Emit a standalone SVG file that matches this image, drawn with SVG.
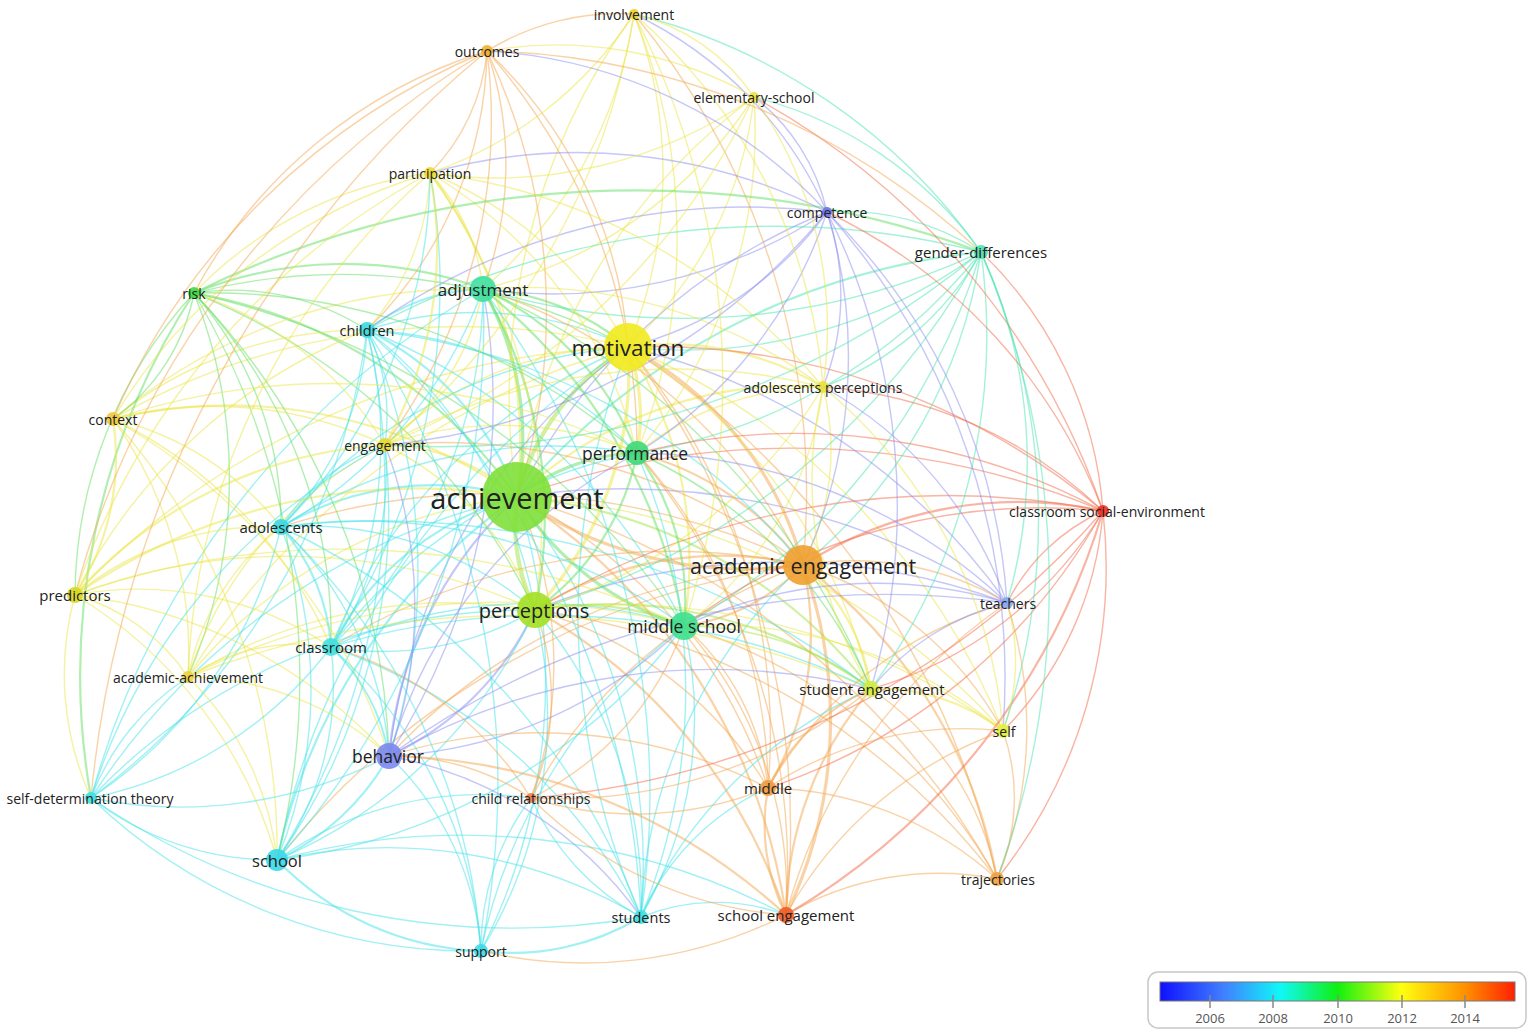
<svg xmlns="http://www.w3.org/2000/svg" width="1535" height="1035" viewBox="0 0 1535 1035">
<defs>
<style>
.c{stroke:#44e4ea}.t{stroke:#4ce6b2}.g{stroke:#62e062}.l{stroke:#a2e443}.y{stroke:#ece544}.o{stroke:#f4a850}.r{stroke:#f36a48}.b{stroke:#8c90f0}
.w2{stroke-width:2.2}.w3{stroke-width:3.2}.w4{stroke-width:4.2}
.lb{font-family:"Open Sans","DejaVu Sans",sans-serif;fill:#222;text-anchor:middle;dominant-baseline:central;font-size:14px}
.m{font-size:15px}
.nd{fill-opacity:0.9}
.lg{font-family:"Open Sans","DejaVu Sans",sans-serif;fill:#555;font-size:13px;text-anchor:middle}
</style>
<linearGradient id="scale" x1="0" y1="0" x2="1" y2="0">
<stop offset="0" stop-color="#1010ff"/>
<stop offset="0.18" stop-color="#4080ff"/>
<stop offset="0.34" stop-color="#10f8f8"/>
<stop offset="0.5" stop-color="#10f010"/>
<stop offset="0.68" stop-color="#ffff10"/>
<stop offset="0.86" stop-color="#ff9000"/>
<stop offset="1" stop-color="#ff2000"/>
</linearGradient>
</defs>
<rect width="1535" height="1035" fill="#fff"/>
<g id="connectors" fill="none" stroke-opacity="0.5" stroke-width="1.4" stroke-linecap="round">
<path class="l w4" d="M517 497A250 250 0 0 1 628 347"/>
<path class="g w3" d="M517 497A200 200 0 0 1 637 453"/>
<path class="l w4" d="M535 610A200 200 0 0 1 517 497"/>
<path class="o w3" d="M803 565A400 400 0 0 1 517 497"/>
<path class="g w3" d="M684 626A300 300 0 0 1 517 497"/>
<path class="g w3" d="M483 289A300 300 0 0 1 517 497"/>
<path class="c w2" d="M367 330A300 300 0 0 1 517 497"/>
<path class="y w2" d="M385 445A200 200 0 0 1 517 497"/>
<path class="c w2" d="M281 527A300 300 0 0 1 517 497"/>
<path class="c w2" d="M331 647A300 300 0 0 1 517 497"/>
<path class="b w2" d="M389 756A400 400 0 0 1 517 497"/>
<path class="g w2" d="M194 293A500 500 0 0 1 517 497"/>
<path class="y w2" d="M113 419A500 500 0 0 1 517 497"/>
<path class="y w2" d="M75 595A600 600 0 0 1 517 497"/>
<path class="y" d="M188 677A500 500 0 0 1 517 497"/>
<path class="c" d="M91 798A700 700 0 0 1 517 497"/>
<path class="c w2" d="M277 860A600 600 0 0 1 517 497"/>
<path class="c" d="M517 497A600 600 0 0 1 481 951"/>
<path class="c" d="M517 497A600 600 0 0 1 641 917"/>
<path class="o" d="M517 497A400 400 0 0 1 531 798"/>
<path class="o" d="M517 497A500 500 0 0 1 768 788"/>
<path class="o w2" d="M517 497A600 600 0 0 1 786 915"/>
<path class="l w2" d="M517 497A500 500 0 0 1 871 689"/>
<path class="y" d="M517 497A700 700 0 0 1 1003 731"/>
<path class="o" d="M517 497A800 800 0 0 1 997 879"/>
<path class="b" d="M517 497A700 700 0 0 1 1007 603"/>
<path class="r" d="M517 497A800 800 0 0 1 1103 511"/>
<path class="y w2" d="M517 497A400 400 0 0 1 823 387"/>
<path class="t w2" d="M517 497A700 700 0 0 1 981 252"/>
<path class="b" d="M517 497A600 600 0 0 1 827 212"/>
<path class="y" d="M517 497A600 600 0 0 1 754 97"/>
<path class="y" d="M517 497A650 650 0 0 1 634 14"/>
<path class="o" d="M487 51A600 600 0 0 1 517 497"/>
<path class="y w2" d="M430 173A450 450 0 0 1 517 497"/>
<path class="y w3" d="M628 347A200 200 0 0 1 637 453"/>
<path class="y w3" d="M628 347A350 350 0 0 1 535 610"/>
<path class="o w3" d="M628 347A350 350 0 0 1 803 565"/>
<path class="y w2" d="M628 347A400 400 0 0 1 684 626"/>
<path class="g w2" d="M483 289A250 250 0 0 1 628 347"/>
<path class="c" d="M367 330A350 350 0 0 1 628 347"/>
<path class="y" d="M634 14A450 450 0 0 1 628 347"/>
<path class="y" d="M754 97A400 400 0 0 1 628 347"/>
<path class="o" d="M487 51A450 450 0 0 1 628 347"/>
<path class="y" d="M430 173A400 400 0 0 1 628 347"/>
<path class="b" d="M827 212A350 350 0 0 1 628 347"/>
<path class="t" d="M981 252A500 500 0 0 1 628 347"/>
<path class="y w2" d="M628 347A300 300 0 0 1 823 387"/>
<path class="y" d="M385 445A350 350 0 0 1 628 347"/>
<path class="g" d="M194 293A600 600 0 0 1 628 347"/>
<path class="y" d="M113 419A700 700 0 0 1 628 347"/>
<path class="c" d="M281 527A500 500 0 0 1 628 347"/>
<path class="c" d="M331 647A550 550 0 0 1 628 347"/>
<path class="b" d="M389 756A600 600 0 0 1 628 347"/>
<path class="y" d="M628 347A550 550 0 0 1 871 689"/>
<path class="y" d="M628 347A700 700 0 0 1 1003 731"/>
<path class="o" d="M628 347A600 600 0 0 1 768 788"/>
<path class="o" d="M628 347A800 800 0 0 1 786 915"/>
<path class="o" d="M628 347A850 850 0 0 1 997 879"/>
<path class="r" d="M628 347A700 700 0 0 1 1103 511"/>
<path class="b" d="M628 347A650 650 0 0 1 1007 603"/>
<path class="y" d="M75 595A800 800 0 0 1 628 347"/>
<path class="c" d="M641 917A750 750 0 0 1 628 347"/>
<path class="c" d="M277 860A800 800 0 0 1 628 347"/>
<path class="y" d="M188 677A750 750 0 0 1 628 347"/>
<path class="o w2" d="M535 610A350 350 0 0 1 803 565"/>
<path class="o w2" d="M803 565A200 200 0 0 1 684 626"/>
<path class="o w2" d="M637 453A300 300 0 0 1 803 565"/>
<path class="y w2" d="M803 565A200 200 0 0 1 871 689"/>
<path class="o w2" d="M803 565A300 300 0 0 1 768 788"/>
<path class="o w3" d="M803 565A450 450 0 0 1 786 915"/>
<path class="o w2" d="M803 565A500 500 0 0 1 997 879"/>
<path class="o" d="M803 565A350 350 0 0 1 1003 731"/>
<path class="o" d="M803 565A300 300 0 0 1 1007 603"/>
<path class="r w2" d="M803 565A400 400 0 0 1 1103 511"/>
<path class="y" d="M823 387A250 250 0 0 1 803 565"/>
<path class="t" d="M981 252A500 500 0 0 1 803 565"/>
<path class="o" d="M389 756A600 600 0 0 1 803 565"/>
<path class="o" d="M531 798A500 500 0 0 1 803 565"/>
<path class="c" d="M641 917A500 500 0 0 1 803 565"/>
<path class="o" d="M483 289A550 550 0 0 1 803 565"/>
<path class="o" d="M385 445A600 600 0 0 1 803 565"/>
<path class="o" d="M331 647A650 650 0 0 1 803 565"/>
<path class="o" d="M281 527A700 700 0 0 1 803 565"/>
<path class="c" d="M367 330A650 650 0 0 1 803 565"/>
<path class="b" d="M827 212A500 500 0 0 1 803 565"/>
<path class="o" d="M277 860A800 800 0 0 1 803 565"/>
<path class="o" d="M634 14A750 750 0 0 1 803 565"/>
<path class="l w2" d="M535 610A250 250 0 0 1 684 626"/>
<path class="g w2" d="M637 453A250 250 0 0 1 535 610"/>
<path class="g w2" d="M483 289A450 450 0 0 1 535 610"/>
<path class="b w2" d="M535 610A300 300 0 0 1 389 756"/>
<path class="c" d="M535 610A300 300 0 0 1 331 647"/>
<path class="c" d="M281 527A350 350 0 0 1 535 610"/>
<path class="c" d="M367 330A450 450 0 0 1 535 610"/>
<path class="o" d="M535 610A250 250 0 0 1 531 798"/>
<path class="o" d="M535 610A400 400 0 0 1 768 788"/>
<path class="o w2" d="M535 610A550 550 0 0 1 786 915"/>
<path class="c" d="M535 610A450 450 0 0 1 641 917"/>
<path class="c" d="M535 610A450 450 0 0 1 481 951"/>
<path class="c" d="M535 610A500 500 0 0 1 277 860"/>
<path class="l w2" d="M535 610A450 450 0 0 1 871 689"/>
<path class="y" d="M535 610A650 650 0 0 1 1003 731"/>
<path class="o" d="M535 610A700 700 0 0 1 997 879"/>
<path class="r" d="M535 610A800 800 0 0 1 1103 511"/>
<path class="b" d="M535 610A650 650 0 0 1 1007 603"/>
<path class="y" d="M385 445A300 300 0 0 1 535 610"/>
<path class="g" d="M194 293A650 650 0 0 1 535 610"/>
<path class="y" d="M75 595A600 600 0 0 1 535 610"/>
<path class="y" d="M188 677A500 500 0 0 1 535 610"/>
<path class="c" d="M91 798A600 600 0 0 1 535 610"/>
<path class="y" d="M430 173A600 600 0 0 1 535 610"/>
<path class="t" d="M981 252A750 750 0 0 1 535 610"/>
<path class="y" d="M823 387A500 500 0 0 1 535 610"/>
<path class="g w2" d="M637 453A250 250 0 0 1 684 626"/>
<path class="g w2" d="M483 289A550 550 0 0 1 684 626"/>
<path class="l" d="M684 626A300 300 0 0 1 871 689"/>
<path class="o" d="M684 626A250 250 0 0 1 768 788"/>
<path class="o" d="M684 626A400 400 0 0 1 786 915"/>
<path class="c" d="M684 626A400 400 0 0 1 641 917"/>
<path class="b" d="M684 626A450 450 0 0 1 389 756"/>
<path class="c" d="M331 647A500 500 0 0 1 684 626"/>
<path class="b" d="M684 626A450 450 0 0 1 1007 603"/>
<path class="t" d="M981 252A650 650 0 0 1 684 626"/>
<path class="y" d="M684 626A450 450 0 0 1 1003 731"/>
<path class="o" d="M684 626A550 550 0 0 1 997 879"/>
<path class="r" d="M684 626A600 600 0 0 1 1103 511"/>
<path class="c" d="M367 330A600 600 0 0 1 684 626"/>
<path class="c" d="M281 527A550 550 0 0 1 684 626"/>
<path class="c" d="M684 626A600 600 0 0 1 277 860"/>
<path class="y" d="M823 387A350 350 0 0 1 684 626"/>
<path class="g" d="M194 293A800 800 0 0 1 684 626"/>
<path class="o" d="M684 626A300 300 0 0 1 531 798"/>
<path class="c w2" d="M367 330A200 200 0 0 1 483 289"/>
<path class="g w2" d="M483 289A300 300 0 0 1 637 453"/>
<path class="g w2" d="M194 293A400 400 0 0 1 483 289"/>
<path class="c" d="M483 289A450 450 0 0 1 281 527"/>
<path class="c" d="M483 289A500 500 0 0 1 331 647"/>
<path class="b" d="M483 289A650 650 0 0 1 389 756"/>
<path class="c" d="M483 289A800 800 0 0 1 277 860"/>
<path class="y" d="M483 289A250 250 0 0 1 385 445"/>
<path class="y" d="M430 173A200 200 0 0 1 483 289"/>
<path class="o" d="M487 51A350 350 0 0 1 483 289"/>
<path class="y" d="M634 14A450 450 0 0 1 483 289"/>
<path class="y" d="M754 97A450 450 0 0 1 483 289"/>
<path class="b" d="M827 212A500 500 0 0 1 483 289"/>
<path class="t" d="M981 252A700 700 0 0 1 483 289"/>
<path class="y" d="M483 289A500 500 0 0 1 823 387"/>
<path class="y" d="M113 419A550 550 0 0 1 483 289"/>
<path class="c" d="M91 798A850 850 0 0 1 483 289"/>
<path class="c" d="M483 289A850 850 0 0 1 641 917"/>
<path class="g" d="M483 289A750 750 0 0 1 871 689"/>
<path class="y" d="M637 453A300 300 0 0 1 823 387"/>
<path class="t" d="M981 252A550 550 0 0 1 637 453"/>
<path class="c" d="M367 330A400 400 0 0 1 637 453"/>
<path class="c" d="M281 527A500 500 0 0 1 637 453"/>
<path class="c" d="M331 647A500 500 0 0 1 637 453"/>
<path class="b" d="M389 756A500 500 0 0 1 637 453"/>
<path class="g" d="M637 453A450 450 0 0 1 871 689"/>
<path class="o" d="M637 453A500 500 0 0 1 768 788"/>
<path class="o" d="M637 453A650 650 0 0 1 786 915"/>
<path class="r" d="M637 453A650 650 0 0 1 1103 511"/>
<path class="b" d="M637 453A550 550 0 0 1 1007 603"/>
<path class="b" d="M827 212A450 450 0 0 1 637 453"/>
<path class="y" d="M754 97A500 500 0 0 1 637 453"/>
<path class="y" d="M634 14A600 600 0 0 1 637 453"/>
<path class="o" d="M487 51A600 600 0 0 1 637 453"/>
<path class="y" d="M430 173A450 450 0 0 1 637 453"/>
<path class="g" d="M194 293A650 650 0 0 1 637 453"/>
<path class="y" d="M385 445A350 350 0 0 1 637 453"/>
<path class="c" d="M637 453A600 600 0 0 1 641 917"/>
<path class="c" d="M367 330A300 300 0 0 1 281 527"/>
<path class="c" d="M367 330A450 450 0 0 1 331 647"/>
<path class="c" d="M367 330A600 600 0 0 1 389 756"/>
<path class="c" d="M367 330A700 700 0 0 1 277 860"/>
<path class="g" d="M194 293A250 250 0 0 1 367 330"/>
<path class="c" d="M367 330A200 200 0 0 1 385 445"/>
<path class="c" d="M367 330A700 700 0 0 1 91 798"/>
<path class="c" d="M367 330A850 850 0 0 1 481 951"/>
<path class="c" d="M367 330A850 850 0 0 1 641 917"/>
<path class="y" d="M430 173A250 250 0 0 1 367 330"/>
<path class="b" d="M367 330A650 650 0 0 1 827 212"/>
<path class="t" d="M367 330A850 850 0 0 1 981 252"/>
<path class="y" d="M113 419A400 400 0 0 1 367 330"/>
<path class="y" d="M75 595A550 550 0 0 1 367 330"/>
<path class="o" d="M487 51A400 400 0 0 1 367 330"/>
<path class="g" d="M194 293A350 350 0 0 1 281 527"/>
<path class="g" d="M194 293A500 500 0 0 1 331 647"/>
<path class="g" d="M194 293A700 700 0 0 1 389 756"/>
<path class="g" d="M194 293A750 750 0 0 1 277 860"/>
<path class="g w2" d="M91 798A700 700 0 0 1 194 293"/>
<path class="g" d="M194 293A200 200 0 0 1 113 419"/>
<path class="g" d="M75 595A450 450 0 0 1 194 293"/>
<path class="o" d="M194 293A500 500 0 0 1 487 51"/>
<path class="y" d="M194 293A400 400 0 0 1 430 173"/>
<path class="y" d="M194 293A350 350 0 0 1 385 445"/>
<path class="g" d="M194 293A500 500 0 0 1 188 677"/>
<path class="g w2" d="M194 293A1000 1000 0 0 1 981 252"/>
<path class="y" d="M113 419A300 300 0 0 1 281 527"/>
<path class="y" d="M113 419A450 450 0 0 1 331 647"/>
<path class="y" d="M113 419A600 600 0 0 1 389 756"/>
<path class="y" d="M113 419A650 650 0 0 1 277 860"/>
<path class="y w2" d="M113 419A250 250 0 0 1 75 595"/>
<path class="y" d="M113 419A400 400 0 0 1 188 677"/>
<path class="y" d="M113 419A400 400 0 0 1 385 445"/>
<path class="o" d="M113 419A700 700 0 0 1 487 51"/>
<path class="y" d="M113 419A550 550 0 0 1 430 173"/>
<path class="y" d="M113 419A700 700 0 0 1 637 453"/>
<path class="y" d="M75 595A300 300 0 0 1 281 527"/>
<path class="y" d="M75 595A350 350 0 0 1 331 647"/>
<path class="y" d="M75 595A500 500 0 0 1 389 756"/>
<path class="y" d="M75 595A450 450 0 0 1 277 860"/>
<path class="y" d="M75 595A200 200 0 0 1 188 677"/>
<path class="y w2" d="M75 595A450 450 0 0 1 385 445"/>
<path class="o" d="M75 595A900 900 0 0 1 487 51"/>
<path class="y" d="M75 595A750 750 0 0 1 430 173"/>
<path class="y" d="M75 595A800 800 0 0 1 684 626"/>
<path class="y" d="M91 798A300 300 0 0 1 75 595"/>
<path class="y" d="M188 677A200 200 0 0 1 331 647"/>
<path class="y" d="M188 677A300 300 0 0 1 389 756"/>
<path class="y" d="M188 677A300 300 0 0 1 277 860"/>
<path class="y" d="M188 677A400 400 0 0 1 385 445"/>
<path class="y" d="M188 677A700 700 0 0 1 430 173"/>
<path class="y" d="M188 677A250 250 0 0 1 281 527"/>
<path class="c" d="M91 798A250 250 0 0 1 188 677"/>
<path class="y" d="M188 677A700 700 0 0 1 684 626"/>
<path class="y" d="M188 677A900 900 0 0 1 871 689"/>
<path class="c w2" d="M281 527A200 200 0 0 1 331 647"/>
<path class="c" d="M281 527A350 350 0 0 1 389 756"/>
<path class="c" d="M281 527A450 450 0 0 1 277 860"/>
<path class="c" d="M281 527A450 450 0 0 1 91 798"/>
<path class="c" d="M281 527A650 650 0 0 1 481 951"/>
<path class="c" d="M281 527A700 700 0 0 1 641 917"/>
<path class="c" d="M281 527A200 200 0 0 1 385 445"/>
<path class="c" d="M430 173A500 500 0 0 1 281 527"/>
<path class="c" d="M281 527A800 800 0 0 1 871 689"/>
<path class="c w2" d="M331 647A200 200 0 0 1 389 756"/>
<path class="c" d="M331 647A300 300 0 0 1 277 860"/>
<path class="c" d="M331 647A400 400 0 0 1 91 798"/>
<path class="c" d="M331 647A450 450 0 0 1 481 951"/>
<path class="c" d="M331 647A550 550 0 0 1 641 917"/>
<path class="c" d="M385 445A300 300 0 0 1 331 647"/>
<path class="o" d="M331 647A350 350 0 0 1 531 798"/>
<path class="c" d="M331 647A750 750 0 0 1 871 689"/>
<path class="c" d="M430 173A650 650 0 0 1 331 647"/>
<path class="c w2" d="M389 756A250 250 0 0 1 277 860"/>
<path class="c" d="M389 756A450 450 0 0 1 91 798"/>
<path class="c" d="M389 756A300 300 0 0 1 481 951"/>
<path class="b" d="M389 756A400 400 0 0 1 641 917"/>
<path class="o" d="M389 756A250 250 0 0 1 531 798"/>
<path class="o" d="M389 756A500 500 0 0 1 768 788"/>
<path class="o w2" d="M389 756A600 600 0 0 1 786 915"/>
<path class="b" d="M385 445A450 450 0 0 1 389 756"/>
<path class="b" d="M389 756A850 850 0 0 1 1007 603"/>
<path class="b" d="M389 756A650 650 0 0 1 871 689"/>
<path class="c" d="M277 860A300 300 0 0 1 91 798"/>
<path class="c w2" d="M481 951A300 300 0 0 1 277 860"/>
<path class="c" d="M277 860A500 500 0 0 1 641 917"/>
<path class="c" d="M277 860A700 700 0 0 1 786 915"/>
<path class="c" d="M385 445A600 600 0 0 1 277 860"/>
<path class="c" d="M277 860A350 350 0 0 1 531 798"/>
<path class="c" d="M481 951A550 550 0 0 1 91 798"/>
<path class="c" d="M641 917A750 750 0 0 1 91 798"/>
<path class="c" d="M91 798A600 600 0 0 1 385 445"/>
<path class="o" d="M91 798A1100 1100 0 0 1 487 51"/>
<path class="c w2" d="M641 917A250 250 0 0 1 481 951"/>
<path class="o" d="M786 915A450 450 0 0 1 481 951"/>
<path class="c" d="M481 951A250 250 0 0 1 531 798"/>
<path class="c" d="M481 951A550 550 0 0 1 684 626"/>
<path class="c" d="M641 917A200 200 0 0 1 786 915"/>
<path class="c" d="M641 917A250 250 0 0 1 531 798"/>
<path class="c" d="M641 917A250 250 0 0 1 768 788"/>
<path class="c" d="M641 917A450 450 0 0 1 871 689"/>
<path class="o w2" d="M786 915A200 200 0 0 1 768 788"/>
<path class="o" d="M786 915A300 300 0 0 1 997 879"/>
<path class="r w2" d="M1103 511A700 700 0 0 1 786 915"/>
<path class="o" d="M786 915A400 400 0 0 1 1003 731"/>
<path class="o w2" d="M786 915A350 350 0 0 1 871 689"/>
<path class="o" d="M786 915A550 550 0 0 1 1007 603"/>
<path class="o" d="M786 915A400 400 0 0 1 531 798"/>
<path class="o" d="M768 788A350 350 0 0 1 997 879"/>
<path class="r" d="M1103 511A600 600 0 0 1 768 788"/>
<path class="o w2" d="M768 788A200 200 0 0 1 871 689"/>
<path class="o" d="M768 788A350 350 0 0 1 1003 731"/>
<path class="o" d="M768 788A350 350 0 0 1 531 798"/>
<path class="o" d="M768 788A400 400 0 0 1 1007 603"/>
<path class="y w2" d="M871 689A200 200 0 0 1 1003 731"/>
<path class="o" d="M871 689A300 300 0 0 1 997 879"/>
<path class="b" d="M871 689A250 250 0 0 1 1007 603"/>
<path class="r" d="M1103 511A400 400 0 0 1 871 689"/>
<path class="y" d="M871 689A400 400 0 0 1 823 387"/>
<path class="t" d="M981 252A600 600 0 0 1 871 689"/>
<path class="o" d="M871 689A500 500 0 0 1 531 798"/>
<path class="o" d="M1003 731A200 200 0 0 1 997 879"/>
<path class="y" d="M1007 603A200 200 0 0 1 1003 731"/>
<path class="r" d="M1103 511A350 350 0 0 1 1003 731"/>
<path class="t" d="M981 252A650 650 0 0 1 1003 731"/>
<path class="b" d="M827 212A700 700 0 0 1 1003 731"/>
<path class="y" d="M823 387A500 500 0 0 1 1003 731"/>
<path class="r" d="M1007 603A200 200 0 0 1 1103 511"/>
<path class="o" d="M1007 603A400 400 0 0 1 997 879"/>
<path class="t" d="M981 252A500 500 0 0 1 1007 603"/>
<path class="b" d="M827 212A600 600 0 0 1 1007 603"/>
<path class="b" d="M823 387A400 400 0 0 1 1007 603"/>
<path class="r" d="M1103 511A500 500 0 0 1 997 879"/>
<path class="r" d="M981 252A400 400 0 0 1 1103 511"/>
<path class="r" d="M827 212A550 550 0 0 1 1103 511"/>
<path class="r" d="M823 387A450 450 0 0 1 1103 511"/>
<path class="r" d="M1103 511A850 850 0 0 1 531 798"/>
<path class="r" d="M754 97A750 750 0 0 1 1103 511"/>
<path class="t" d="M827 212A250 250 0 0 1 981 252"/>
<path class="t" d="M981 252A300 300 0 0 1 823 387"/>
<path class="t" d="M754 97A400 400 0 0 1 981 252"/>
<path class="t" d="M634 14A600 600 0 0 1 981 252"/>
<path class="t" d="M981 252A850 850 0 0 1 997 879"/>
<path class="t" d="M981 252A850 850 0 0 1 385 445"/>
<path class="b" d="M754 97A200 200 0 0 1 827 212"/>
<path class="b" d="M827 212A250 250 0 0 1 823 387"/>
<path class="b" d="M430 173A550 550 0 0 1 827 212"/>
<path class="b" d="M827 212A650 650 0 0 1 385 445"/>
<path class="b" d="M634 14A400 400 0 0 1 827 212"/>
<path class="b" d="M827 212A650 650 0 0 1 871 689"/>
<path class="y" d="M634 14A200 200 0 0 1 754 97"/>
<path class="y" d="M754 97A450 450 0 0 1 430 173"/>
<path class="y" d="M487 51A400 400 0 0 1 754 97"/>
<path class="y" d="M754 97A400 400 0 0 1 823 387"/>
<path class="y" d="M754 97A700 700 0 0 1 385 445"/>
<path class="o" d="M487 51A250 250 0 0 1 634 14"/>
<path class="y" d="M634 14A400 400 0 0 1 430 173"/>
<path class="y" d="M634 14A700 700 0 0 1 385 445"/>
<path class="y" d="M634 14A550 550 0 0 1 823 387"/>
<path class="y" d="M634 14A800 800 0 0 1 684 626"/>
<path class="o" d="M487 51A200 200 0 0 1 430 173"/>
<path class="o" d="M487 51A550 550 0 0 1 385 445"/>
<path class="o" d="M487 51A750 750 0 0 1 981 252"/>
<path class="b" d="M487 51A500 500 0 0 1 827 212"/>
<path class="y w2" d="M430 173A400 400 0 0 1 385 445"/>
<path class="y" d="M430 173A600 600 0 0 1 823 387"/>
<path class="y" d="M385 445A600 600 0 0 1 823 387"/>
</g>
<g id="n-involvement"><circle class="nd" cx="634" cy="14" r="5" fill="#f0d020"/><text class="lb" x="634" y="14">involvement</text></g>
<g id="n-outcomes"><circle class="nd" cx="487" cy="51" r="6" fill="#f0b030"/><text class="lb" x="487" y="51">outcomes</text></g>
<g id="n-elementary-school"><circle class="nd" cx="754" cy="97" r="5" fill="#f0e040"/><text class="lb" x="754" y="97">elementary-school</text></g>
<g id="n-participation"><circle class="nd" cx="430" cy="173" r="6" fill="#f0d830"/><text class="lb" x="430" y="173">participation</text></g>
<g id="n-competence"><circle class="nd" cx="827" cy="212" r="5" fill="#7070f0"/><text class="lb" x="827" y="212">competence</text></g>
<g id="n-gender-differences"><circle class="nd" cx="981" cy="252" r="7" fill="#50e0b0"/><text class="lb m" x="981" y="252">gender-differences</text></g>
<g id="n-risk"><circle class="nd" cx="194" cy="293" r="6" fill="#40d840"/><text class="lb" x="194" y="293">risk</text></g>
<g id="n-adjustment"><circle class="nd" cx="483" cy="289" r="13" fill="#3ee0a0"/><text class="lb" x="483" y="289" style="font-size:17px">adjustment</text></g>
<g id="n-children"><circle class="nd" cx="367" cy="330" r="8" fill="#3ad8e0"/><text class="lb" x="367" y="330" style="font-size:14.5px">children</text></g>
<g id="n-motivation"><circle class="nd" cx="628" cy="347" r="24" fill="#f2ea1e"/><text class="lb" x="628" y="347" style="font-size:22.5px">motivation</text></g>
<g id="n-adolescents-perceptions"><circle class="nd" cx="823" cy="387" r="6" fill="#e8e040"/><text class="lb" x="823" y="387">adolescents perceptions</text></g>
<g id="n-context"><circle class="nd" cx="113" cy="419" r="7" fill="#f0c840"/><text class="lb" x="113" y="419">context</text></g>
<g id="n-engagement"><circle class="nd" cx="385" cy="445" r="7" fill="#e8d830"/><text class="lb" x="385" y="445">engagement</text></g>
<g id="n-performance"><circle class="nd" cx="637" cy="453" r="12" fill="#3ed878"/><text class="lb" x="635" y="453" style="font-size:17.5px">performance</text></g>
<g id="n-achievement"><circle class="nd" cx="517" cy="497" r="35" fill="#7fe03a"/><text class="lb" x="517" y="497" style="font-size:29px">achievement</text></g>
<g id="n-classroom-social-environment"><circle class="nd" cx="1103" cy="511" r="6" fill="#f03020"/><text class="lb" x="1107" y="511">classroom social-environment</text></g>
<g id="n-adolescents"><circle class="nd" cx="281" cy="527" r="8" fill="#3ad8e0"/><text class="lb m" x="281" y="527">adolescents</text></g>
<g id="n-academic-engagement"><circle class="nd" cx="803" cy="565" r="20" fill="#f0a030"/><text class="lb" x="803" y="565" style="font-size:21.5px">academic engagement</text></g>
<g id="n-predictors"><circle class="nd" cx="75" cy="595" r="8" fill="#d8d820"/><text class="lb m" x="75" y="595">predictors</text></g>
<g id="n-perceptions"><circle class="nd" cx="535" cy="610" r="18" fill="#a4e024"/><text class="lb" x="534" y="610" style="font-size:20px">perceptions</text></g>
<g id="n-teachers"><circle class="nd" cx="1007" cy="603" r="6" fill="#88a8f0"/><text class="lb" x="1008" y="603">teachers</text></g>
<g id="n-middle-school"><circle class="nd" cx="684" cy="626" r="14" fill="#3ee08c"/><text class="lb" x="684" y="626" style="font-size:17.5px">middle school</text></g>
<g id="n-classroom"><circle class="nd" cx="331" cy="647" r="9" fill="#40e0e0"/><text class="lb m" x="331" y="647">classroom</text></g>
<g id="n-student-engagement"><circle class="nd" cx="871" cy="689" r="8" fill="#d4ec40"/><text class="lb m" x="872" y="689">student engagement</text></g>
<g id="n-academic-achievement"><circle class="nd" cx="188" cy="677" r="6" fill="#f0d040"/><text class="lb" x="188" y="677">academic-achievement</text></g>
<g id="n-self"><circle class="nd" cx="1003" cy="731" r="7" fill="#e4f040"/><text class="lb" x="1004" y="731">self</text></g>
<g id="n-behavior"><circle class="nd" cx="389" cy="756" r="13" fill="#7a88ee"/><text class="lb" x="388" y="756" style="font-size:17.5px">behavior</text></g>
<g id="n-self-determination-theory"><circle class="nd" cx="91" cy="798" r="6" fill="#40e0e0"/><text class="lb" x="90" y="798">self-determination theory</text></g>
<g id="n-child-relationships"><circle class="nd" cx="531" cy="798" r="5" fill="#f08050"/><text class="lb" x="531" y="798">child relationships</text></g>
<g id="n-middle"><circle class="nd" cx="768" cy="788" r="8" fill="#f09a40"/><text class="lb m" x="768" y="788">middle</text></g>
<g id="n-school"><circle class="nd" cx="277" cy="860" r="11" fill="#3ad8e8"/><text class="lb" x="277" y="860" style="font-size:16.5px">school</text></g>
<g id="n-students"><circle class="nd" cx="641" cy="917" r="7" fill="#40e0e0"/><text class="lb" x="641" y="917" style="font-size:14.5px">students</text></g>
<g id="n-school-engagement"><circle class="nd" cx="786" cy="915" r="8" fill="#f05a28"/><text class="lb m" x="786" y="915">school engagement</text></g>
<g id="n-trajectories"><circle class="nd" cx="997" cy="879" r="7" fill="#f0a040"/><text class="lb" x="998" y="879">trajectories</text></g>
<g id="n-support"><circle class="nd" cx="481" cy="951" r="7" fill="#40d8e8"/><text class="lb" x="481" y="951">support</text></g>
<g id="legend">
<rect x="1148" y="972" width="378" height="56" rx="10" fill="#fff" stroke="#c8c8c8" stroke-width="1.5"/>
<rect x="1160" y="982" width="355" height="19" fill="url(#scale)" stroke="#777" stroke-width="1"/>
<g stroke="#888" stroke-width="1.5">
<line x1="1210" y1="995" x2="1210" y2="1008"/>
<line x1="1273" y1="995" x2="1273" y2="1008"/>
<line x1="1338" y1="995" x2="1338" y2="1008"/>
<line x1="1402" y1="995" x2="1402" y2="1008"/>
<line x1="1465" y1="995" x2="1465" y2="1008"/>
</g>
<text class="lg" x="1210" y="1023">2006</text>
<text class="lg" x="1273" y="1023">2008</text>
<text class="lg" x="1338" y="1023">2010</text>
<text class="lg" x="1402" y="1023">2012</text>
<text class="lg" x="1465" y="1023">2014</text>
</g>
</svg>
